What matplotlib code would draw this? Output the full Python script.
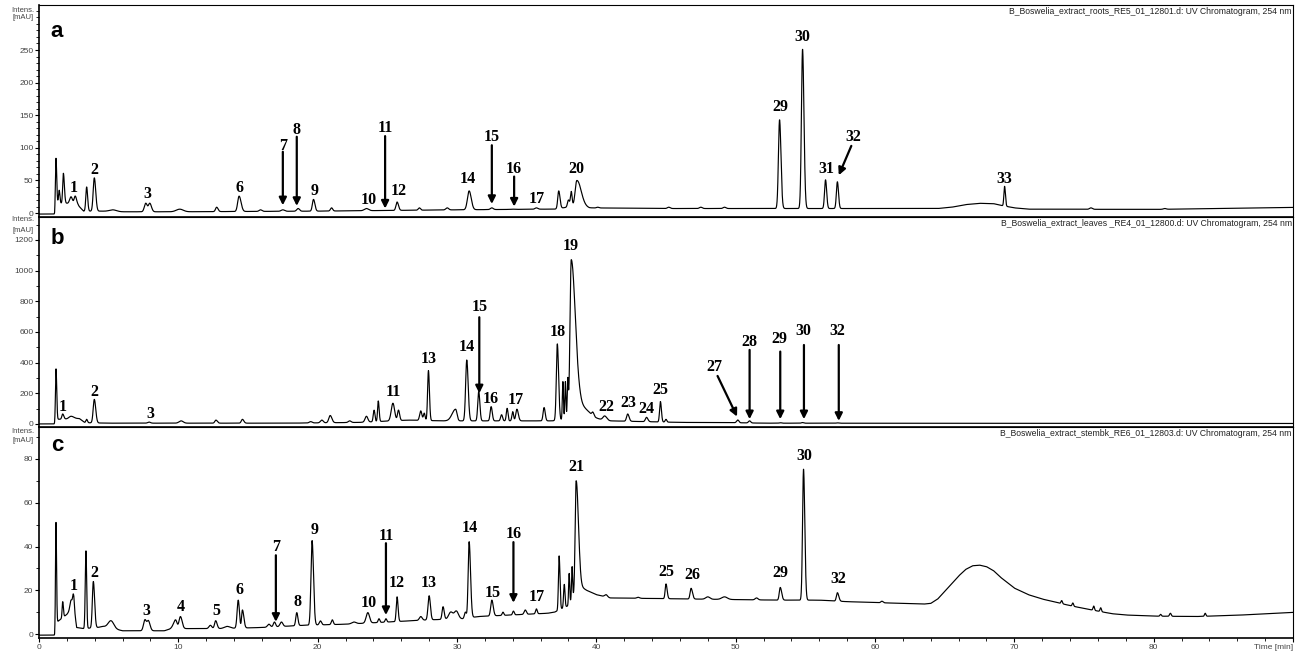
"""UV chromatograms (254 nm) of three Boswellia extracts, stacked panels a-c."""

import matplotlib

matplotlib.use("Agg")
import matplotlib.pyplot as plt
import numpy as np
from matplotlib.ticker import MultipleLocator

# ---------------------------------------------------------------- data
# peaks: (retention time [min], apex intensity [mAU], left sigma, right sigma)
peaks_a = [
    (1.22, 84, 0.04, 0.05), (1.45, 35, 0.05, 0.05), (1.75, 61, 0.05, 0.07),
    (2.3, 25, 0.1, 0.1), (2.6, 26, 0.08, 0.1), (3.42, 40, 0.06, 0.07),
    (3.97, 54, 0.08, 0.1), (5.3, 5, 0.25, 0.25), (7.66, 15, 0.1, 0.1),
    (7.95, 15, 0.1, 0.12), (10.1, 6, 0.25, 0.25), (12.75, 9, 0.08, 0.1),
    (14.36, 26, 0.1, 0.14), (15.9, 5, 0.1, 0.1), (17.5, 5, 0.12, 0.12),
    (18.6, 7, 0.1, 0.1), (19.7, 21, 0.08, 0.1), (21.0, 8, 0.08, 0.08),
    (23.5, 7, 0.15, 0.15), (25.7, 17, 0.08, 0.1), (27.3, 8, 0.08, 0.08),
    (29.3, 8, 0.1, 0.1), (30.87, 34, 0.12, 0.15), (32.5, 8, 0.1, 0.1),
    (34.0, 6, 0.1, 0.1), (35.7, 8, 0.1, 0.1), (37.3, 34, 0.07, 0.09),
    (38.0, 20, 0.07, 0.07), (38.2, 33, 0.06, 0.06), (38.6, 50, 0.12, 0.3),
    (40.1, 9, 0.08, 0.08), (45.2, 9, 0.1, 0.1), (47.5, 9, 0.1, 0.1),
    (49.2, 9, 0.1, 0.1), (53.15, 143, 0.08, 0.1), (54.8, 251, 0.08, 0.1),
    (56.45, 51, 0.07, 0.08), (57.3, 48, 0.07, 0.08), (69.3, 41, 0.05, 0.06),
    (75.5, 8, 0.1, 0.1), (80.8, 7, 0.1, 0.1),
]
base_a_t = [0, 1.12, 1.2, 2.0, 2.8, 3.2, 4.5, 6, 10, 20, 30, 36, 37, 38.8, 39.5,
            45, 52, 58, 64.5, 65.5, 66.5, 67.5, 68.5, 69.0, 70, 71, 80, 90]
base_a_y = [-1.5, -1.5, 15, 15, 12, 3, 3, 2, 2, 3, 5, 6, 6, 12, 8,
            7, 7, 7, 7, 9, 13, 15, 14.5, 12, 8, 6, 5.6, 8.7]

peaks_b = [
    (1.22, 359, 0.04, 0.05), (1.7, 65, 0.06, 0.08), (2.3, 50, 0.15, 0.2),
    (3.42, 30, 0.06, 0.06), (3.97, 160, 0.08, 0.1), (7.9, 12, 0.1, 0.1),
    (10.2, 20, 0.15, 0.15), (12.7, 25, 0.08, 0.1), (14.6, 30, 0.08, 0.1),
    (19.5, 15, 0.1, 0.1), (20.3, 25, 0.1, 0.1), (20.9, 55, 0.1, 0.12),
    (22.3, 20, 0.1, 0.1), (23.5, 50, 0.1, 0.1), (24.05, 90, 0.06, 0.06),
    (24.35, 150, 0.05, 0.06), (25.4, 135, 0.12, 0.12), (25.8, 90, 0.07, 0.08),
    (27.4, 85, 0.08, 0.08), (27.65, 70, 0.06, 0.06), (27.95, 348, 0.06, 0.07),
    (29.9, 96, 0.25, 0.1), (30.7, 417, 0.08, 0.1), (31.56, 211, 0.07, 0.08),
    (32.45, 113, 0.07, 0.08), (33.2, 60, 0.07, 0.07), (33.6, 102, 0.06, 0.06),
    (34.0, 80, 0.06, 0.06), (34.3, 96, 0.08, 0.1), (35.25, 20, 0.1, 0.1),
    (36.25, 107, 0.07, 0.08), (37.2, 522, 0.07, 0.09), (37.6, 276, 0.04, 0.04),
    (37.78, 276, 0.04, 0.04), (37.95, 280, 0.04, 0.04), (38.2, 1070, 0.09, 0.3),
    (38.9, 110, 0.25, 0.5), (39.75, 60, 0.07, 0.08), (40.6, 52, 0.12, 0.15),
    (42.25, 65, 0.08, 0.1), (43.6, 43, 0.08, 0.1), (44.6, 146, 0.06, 0.07),
    (45.0, 30, 0.06, 0.06), (50.15, 26, 0.08, 0.08), (51.0, 20, 0.08, 0.08),
    (53.2, 8, 0.08, 0.08), (54.8, 9, 0.08, 0.08), (57.3, 7, 0.08, 0.08),
]
base_b_t = [0, 1.12, 1.25, 2.9, 3.3, 5, 18, 23, 26.5, 29, 36.8, 39.5, 41, 46, 50,
            52, 90]
base_b_y = [0, 0, 30, 35, 8, 5, 5, 10, 25, 20, 20, 40, 20, 10, 8, 5, 3]

peaks_c = [
    (1.22, 51, 0.035, 0.04), (1.7, 14.8, 0.04, 0.05), (2.3, 15.5, 0.08, 0.08),
    (2.46, 17.8, 0.05, 0.06), (3.37, 38, 0.05, 0.05), (3.9, 24, 0.07, 0.09),
    (5.17, 6.1, 0.2, 0.2), (7.6, 6.4, 0.1, 0.1), (7.85, 6.0, 0.1, 0.12),
    (9.8, 6.5, 0.15, 0.1), (10.15, 8, 0.1, 0.12), (12.3, 4, 0.1, 0.1),
    (12.68, 6.1, 0.08, 0.1), (13.5, 3.5, 0.2, 0.2), (14.3, 15.5, 0.08, 0.08),
    (14.6, 11, 0.06, 0.1), (16.5, 4.5, 0.1, 0.1), (16.9, 5.5, 0.08, 0.08),
    (17.4, 5.5, 0.1, 0.1), (18.5, 9.8, 0.07, 0.08), (19.6, 42.7, 0.08, 0.1),
    (20.2, 6, 0.08, 0.08), (21.05, 6.5, 0.07, 0.07), (22.6, 5.5, 0.15, 0.15),
    (23.6, 9.8, 0.12, 0.12), (24.4, 7, 0.06, 0.06), (24.9, 7, 0.06, 0.06),
    (25.7, 17, 0.06, 0.07), (27.4, 8, 0.1, 0.1), (28.0, 17.5, 0.08, 0.09),
    (29.0, 12.5, 0.07, 0.08), (29.55, 10, 0.15, 0.15), (29.95, 10.5, 0.15, 0.15),
    (30.6, 10, 0.07, 0.07), (30.87, 42.2, 0.07, 0.1), (32.5, 15.5, 0.08, 0.1),
    (33.3, 10, 0.06, 0.06), (34.05, 10.5, 0.06, 0.06), (34.9, 11, 0.08, 0.08),
    (35.7, 11.5, 0.06, 0.06), (37.33, 35.7, 0.05, 0.06), (37.7, 22.7, 0.05, 0.05),
    (38.05, 27.7, 0.04, 0.04), (38.26, 30.8, 0.04, 0.04), (38.55, 70, 0.07, 0.16),
    (40.1, 17.8, 0.06, 0.06), (40.7, 18, 0.1, 0.1), (43.0, 16.8, 0.1, 0.1),
    (45.0, 22.9, 0.06, 0.08), (46.8, 20.9, 0.07, 0.1), (48.0, 17, 0.15, 0.15),
    (49.2, 17, 0.2, 0.2), (51.5, 16.5, 0.1, 0.1), (53.2, 21.3, 0.07, 0.1),
    (54.87, 75.3, 0.07, 0.09), (57.3, 18.9, 0.07, 0.1), (60.5, 15, 0.08, 0.08),
    (73.4, 15.3, 0.05, 0.05), (74.2, 14.2, 0.05, 0.05), (75.7, 12.8, 0.05, 0.05),
    (76.2, 12.0, 0.05, 0.05), (80.5, 9.0, 0.05, 0.05), (81.2, 9.5, 0.06, 0.06),
    (83.7, 9.5, 0.05, 0.05),
]
base_c_t = [0, 1.12, 1.2, 1.4, 2.0, 2.5, 2.7, 3.2, 4.2, 4.6, 6, 9, 9.5, 13, 16,
            19, 22, 25, 28, 30.5, 31.5, 36.5, 37.0, 38, 38.8, 39.3, 40, 41, 53, 56,
            58, 63.5, 64.0, 64.5, 65, 65.5, 66, 66.5, 67, 67.5, 68, 68.5, 69, 69.5,
            70, 71, 72, 73, 74, 75, 76, 77, 78, 80, 83, 86, 90]
base_c_y = [-0.5, -0.5, 5, 6, 9, 13, 3, 2.5, 3, 3.5, 1.5, 1.5, 2.5, 2.5, 3,
            4, 4.5, 5.5, 6.5, 7, 8, 9.5, 10, 13, 22, 20, 18, 16.5, 15.5, 15.5,
            14.8, 13.7, 14, 16, 19.5, 23, 26.5, 29.5, 31.2, 31.5, 30.8, 29, 26,
            23.5, 21, 18, 16, 14.5, 13, 11.7, 10.5, 9.3, 8.7, 8.2, 8, 8.6, 9.9]

# peak numbers: (text, time, intensity)
labels_a = [("1", 2.5, 38), ("2", 3.97, 66), ("3", 7.78, 30), ("6", 14.36, 38),
            ("7", 17.5, 103), ("8", 18.5, 127), ("9", 19.75, 34), ("10", 23.65, 20),
            ("11", 24.84, 131), ("12", 25.84, 34), ("14", 30.8, 53), ("15", 32.5, 116),
            ("16", 34.1, 67), ("17", 35.7, 22), ("20", 38.6, 67), ("29", 53.2, 162),
            ("30", 54.8, 270), ("31", 56.5, 67), ("32", 58.45, 117), ("33", 69.3, 52)]
labels_b = [("1", 1.74, 113), ("2", 3.97, 211), ("3", 7.97, 65), ("11", 25.43, 211),
            ("13", 27.95, 422), ("14", 30.7, 504), ("15", 31.6, 761), ("16", 32.45, 163),
            ("17", 34.25, 157), ("18", 37.2, 602), ("19", 38.17, 1161), ("22", 40.7, 109),
            ("23", 42.3, 139), ("24", 43.6, 96), ("25", 44.63, 222), ("27", 48.5, 374),
            ("28", 51.0, 537), ("29", 53.15, 553), ("30", 54.87, 609), ("32", 57.26, 609)]
labels_c = [("1", 2.51, 22), ("2", 3.97, 28), ("3", 7.73, 10.7), ("4", 10.17, 12.2),
            ("5", 12.7, 10.5), ("6", 14.36, 20), ("7", 17.0, 40), ("8", 18.55, 14.8),
            ("9", 19.75, 47.5), ("10", 23.65, 14), ("11", 24.9, 45), ("12", 25.7, 23.5),
            ("13", 28.0, 23.2), ("14", 30.9, 48.3), ("15", 32.6, 18.9), ("16", 34.05, 45.7),
            ("17", 35.7, 16.8), ("21", 38.6, 76.2), ("25", 45.0, 28.5), ("26", 46.86, 27),
            ("29", 53.24, 27.7), ("30", 54.9, 81.4), ("32", 57.4, 25)]

# arrows: (tail time, tail intensity, tip time, tip intensity)
arrows_a = [(17.5, 94, 17.5, 12), (18.5, 117, 18.5, 11), (24.84, 118, 24.84, 7),
            (32.5, 104, 32.5, 14), (34.1, 56, 34.1, 10), (58.3, 103, 57.4, 58)]
arrows_b = [(31.6, 696, 31.6, 200), (48.7, 313, 50.1, 48), (51.0, 483, 51.0, 31),
            (53.2, 472, 53.2, 31), (54.9, 515, 54.9, 31), (57.4, 515, 57.4, 20)]
arrows_c = [(17.0, 36, 17.0, 5.6), (24.9, 41.5, 24.9, 8.7), (34.05, 42, 34.05, 14.3)]

titles = [
    "B_Boswelia_extract_roots_RE5_01_12801.d: UV Chromatogram, 254 nm",
    "B_Boswelia_extract_leaves _RE4_01_12800.d: UV Chromatogram, 254 nm",
    "B_Boswelia_extract_stembk_RE6_01_12803.d: UV Chromatogram, 254 nm",
]
panel_letters = ["a", "b", "c"]


def build_trace(t, base_t, base_y, peaks):
    base = np.interp(t, base_t, base_y)
    y = base.copy()
    for rt, apex, sl, sr in peaks:
        amp = max(apex - np.interp(rt, base_t, base_y), 0.0)
        sig = np.where(t < rt, sl, sr)
        y += amp * np.exp(-0.5 * ((t - rt) / sig) ** 2)
    return y


# ---------------------------------------------------------------- figure
fig = plt.figure(figsize=(12.97, 6.54), dpi=100)
left, width = 39 / 1297, 1254 / 1297
rects = [(217, 212), (427, 210), (638, 211)]  # (bottom px, height px)
ylims = [(-6, 319), (-20, 1350), (-1.8, 94.6)]
majors = [50, 200, 20]
minors = [10, 100, 10]
ytop = [250, 1200, 80]
unit_pos = [(0.975, 0.942), (0.986, 0.938), (0.981, 0.934)]
letter_y = [0.877, 0.90, 0.91]

t = np.linspace(0, 90, 18001)
traces = [
    build_trace(t, base_a_t, base_a_y, peaks_a),
    build_trace(t, base_b_t, base_b_y, peaks_b),
    build_trace(t, base_c_t, base_c_y, peaks_c),
]
all_labels = [labels_a, labels_b, labels_c]
all_arrows = [arrows_a, arrows_b, arrows_c]

sans = ["Liberation Sans", "DejaVu Sans"]
serif = ["Liberation Serif", "DejaVu Serif"]
grey = "#444444"

for i in range(3):
    bottom_px, h_px = rects[i]
    ax = fig.add_axes([left, 1 - bottom_px / 654, width, h_px / 654])
    ax.plot(t, traces[i], color="black", lw=0.85)
    ax.set_xlim(0, 90)
    ax.set_ylim(*ylims[i])

    ax.set_yticks(np.arange(0, ytop[i] + 1, majors[i]))
    ax.yaxis.set_minor_locator(MultipleLocator(minors[i]))
    ax.tick_params(axis="y", which="major", direction="out", length=3, width=0.8,
                   pad=1, labelsize=6, labelcolor=grey)
    ax.tick_params(axis="y", which="minor", direction="out", length=2, width=0.6)
    for lab in ax.get_yticklabels():
        lab.set_family(sans)

    if i < 2:
        ax.tick_params(axis="x", which="both", bottom=False, labelbottom=False)
    else:
        ax.set_xticks(np.arange(0, 91, 10))
        ax.set_xticklabels([str(v) for v in range(0, 90, 10)] + ["Time [min]"])
        ax.xaxis.set_minor_locator(MultipleLocator(2))
        ax.tick_params(axis="x", which="major", direction="out", length=3, width=0.8,
                       pad=1.5, labelsize=6, labelcolor=grey)
        ax.tick_params(axis="x", which="minor", direction="out", length=2, width=0.6)
        for lab in ax.get_xticklabels():
            lab.set_family(sans)
        ax.get_xticklabels()[-1].set_horizontalalignment("right")

    for side in ("left", "bottom"):
        ax.spines[side].set_linewidth(1.2)
    for side in ("top", "right"):
        ax.spines[side].set_linewidth(0.8)

    ax.text(-0.004, unit_pos[i][0], "Intens.", transform=ax.transAxes, ha="right",
            va="center", fontsize=5.5, color=grey, family=sans)
    ax.text(-0.004, unit_pos[i][1], "[mAU]", transform=ax.transAxes, ha="right",
            va="center", fontsize=5.5, color=grey, family=sans)
    ax.text(0.999, 0.99, titles[i], transform=ax.transAxes, ha="right", va="top",
            fontsize=6.2, color="#222222", family=sans)
    ax.text(0.0093, letter_y[i], panel_letters[i], transform=ax.transAxes, ha="left",
            va="center", fontsize=16, fontweight="bold", family=sans)

    for txt, x, y in all_labels[i]:
        ax.text(x, y, txt, ha="center", va="center", fontsize=11.5,
                fontweight="bold", family=serif)
    for x0, y0, x1, y1 in all_arrows[i]:
        ax.annotate("", xy=(x1, y1), xytext=(x0, y0),
                    arrowprops=dict(arrowstyle="-|>", color="black", lw=1.6,
                                    mutation_scale=11, shrinkA=0, shrinkB=0))

fig.savefig("out.png", dpi=100)
